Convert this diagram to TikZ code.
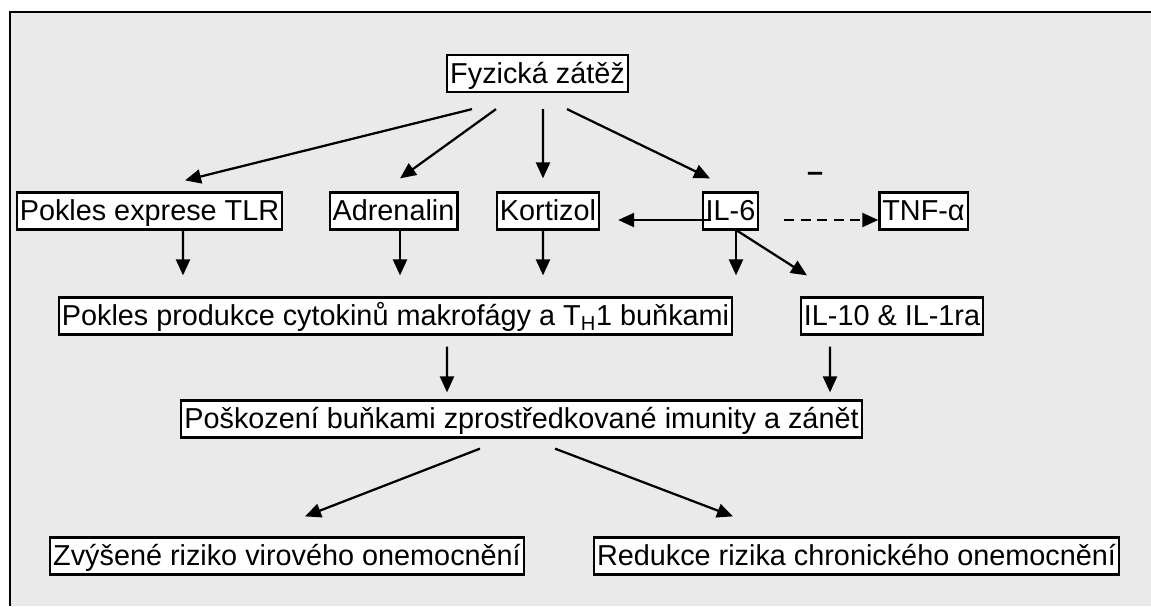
\documentclass[tikz,border=0pt]{standalone}
\usepackage{fontspec}
\setmainfont{Liberation Sans}
\usetikzlibrary{calc,arrows.meta}
\definecolor{panel}{HTML}{EAEAEA}
\tikzset {>={Triangle[length=.32cm,width=.28cm]}}

\begin{document}
\begin{tikzpicture}[x=.02cm,y=-.02cm,
  box/.style={draw,fill=white,line width=.045cm,inner xsep=.06cm,
    inner ysep=.02cm,text height=.546cm,text depth=.154cm,
    font=\fontsize{16.4}{19}\selectfont},
  arr/.style={->,line width=.045cm}]
\useasboundingbox (0,0) rectangle (1151,606);
\fill[panel] (10,12) rectangle (1151,606);
\draw[line width=.05cm] (10,606) -- (10,12) -- (1151,12);

\node[box] (fyz) at (537.5,73.5) {Fyzická zátěž};
\node[box] (tlr) at (149.5,211) {Pokles exprese TLR};
\node[box] (adr) at (393.5,211) {Adrenalin};
\node[box] (kort) at (548,211) {Kortizol};
\node[box] (il6) at (730.5,211) {IL-6};
\node[box] (tnf) at (923.5,211) {TNF-α};
\node[font=\fontsize{16.4}{19}\selectfont\bfseries] (minus) at (815,177) {–};
\node[box] (cyt) at (395.5,316)
  {Pokles produkce cytokinů makrofágy a T\textsubscript{H}1 buňkami};
\node[box] (il10) at (892,316) {IL-10 \& IL-1ra};
\node[box] (posk) at (521.5,419)
  {Poškození buňkami zprostředkované imunity a zánět};
\node[box] (vir) at (287,556) {Zvýšené riziko virového onemocnění};
\node[box] (chron) at (856.5,556) {Redukce rizika chronického onemocnění};

\draw[arr] ($(fyz.south)+(-65.5,16)$) -- ($(tlr.north)+(35.5,-11)$);
\draw[arr] ($(fyz.south)+(-41.5,16)$) -- ($(adr.north)+(6.5,-13)$);
\draw[arr] ($(fyz.south)+(5.5,16)$) -- ($(kort.north)+(-5,-13)$);
\draw[arr] ($(fyz.south)+(29.5,16)$) -- ($(il6.north)+(-20.5,-13)$);
\draw[arr] ($(il6.west)+(9,9)$) -- ($(kort.east)+(18,9)$);
\draw[arr,dash pattern=on .2cm off .13cm] ($(il6.east)+(25,9)$)
  -- ($(tnf.west)+(0,9)$);
\draw[arr] ($(tlr.south)+(33.5,0)$) -- ($(cyt.north)+(-212.5,-21)$);
\draw[arr] ($(adr.south)+(6.5,0)$) -- ($(cyt.north)+(4.5,-21)$);
\draw[arr] ($(kort.south)+(-5,0)$) -- ($(cyt.north)+(147.5,-21)$);
\draw[arr] ($(il6.south)+(5.5,0)$) -- ($(cyt.north)+(340.5,-21)$);
\draw[arr] ($(il6.south)+(6.5,0)$) -- ($(il10.north)+(-85,-21)$);
\draw[arr] ($(cyt.south)+(51.5,11)$) -- ($(posk.north)+(-74.5,-7)$);
\draw[arr] ($(il10.south)+(-62,11)$) -- ($(posk.north)+(308.5,-7)$);
\draw[arr] ($(posk.south)+(-41.5,10)$) -- ($(vir.north)+(18,-20)$);
\draw[arr] ($(posk.south)+(33.5,10)$) -- ($(chron.north)+(-123.5,-20)$);
\end{tikzpicture}
\end{document}
